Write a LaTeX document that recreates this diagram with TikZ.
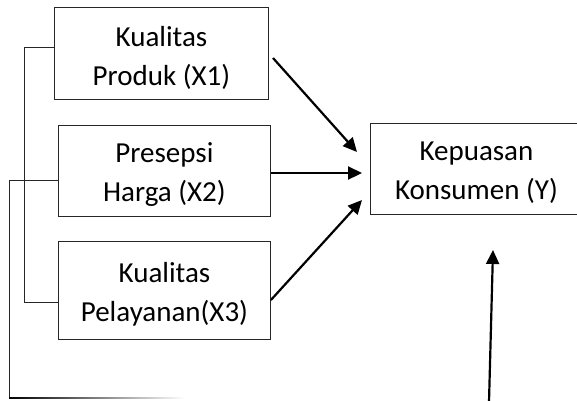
\documentclass[tikz,border=0pt]{standalone}
\usepackage{fontspec}
\setmainfont{Carlito}
\usetikzlibrary{arrows.meta,calc}
\begin{document}
\begin{tikzpicture}[x=1pt,y=-1pt,
  box/.style={draw=black!85,line width=0.9pt,inner sep=0pt,anchor=north west},
  lbl/.style={align=center,font=\fontsize{29}{39}\selectfont,inner sep=0pt},
  arr/.style={line width=2.2pt,-{Triangle[length=14pt,width=13pt]}},
  thin/.style={line width=0.9pt,black!85}]
\useasboundingbox (0,0) rectangle (577,400);
% boxes
\node[box,minimum width=214pt,minimum height=92pt] (b1) at (54,7) {};
\node[box,minimum width=212pt,minimum height=91pt] (b2) at (58,125) {};
\node[box,minimum width=212pt,minimum height=98pt] (b3) at (58,241) {};
\node[box,minimum width=212pt,minimum height=91pt] (by) at (370,123) {};
% labels
\node[lbl] (t1) at ($(b1.center)+(0,4)$) {Kualitas\\Produk (X1)};
\node[lbl] (t2) at ($(b2.center)+(0,4)$) {Presepsi\\Harga (X2)};
\node[lbl] (t3) at ($(b3.center)+(0,4)$) {Kualitas\\Pelayanan(X3)};
\node[lbl] (ty) at ($(by.center)+(0,4)$) {Kepuasan\\Konsumen (Y)};
% first bracket
\coordinate (a1) at (24,47);
\coordinate (a2) at (24,302);
\coordinate (e1) at (b1.west |- a1);
\coordinate (e3) at (b3.west |- a2);
\draw[thin] (e1) -- (a1) -- (a2) -- (e3);
% second bracket
\coordinate (c1) at (9,180);
\coordinate (c2) at (9,398);
\coordinate (c3) at (185,398);
\coordinate (e2) at (b2.west |- c1);
\draw[thin] (e2) -- (c1) -- (c2);
\shade[left color=black,right color=white] (9,397) rectangle (c3);
% arrows into Y
\coordinate (s1) at (273,58);
\coordinate (p1) at (357,152);
\coordinate (s2) at (b2.east |- 0,173);
\coordinate (p2) at (362,173);
\coordinate (s3) at (b3.east |- 0,300);
\coordinate (p3) at (362,200);
\draw[arr] (s1) -- (p1);
\draw[arr] (s2) -- (p2);
\draw[arr] (s3) -- (p3);
\coordinate (s4) at (489,402);
\coordinate (p4) at (493,250);
\draw[arr] (s4) -- (p4);
\end{tikzpicture}
\end{document}
